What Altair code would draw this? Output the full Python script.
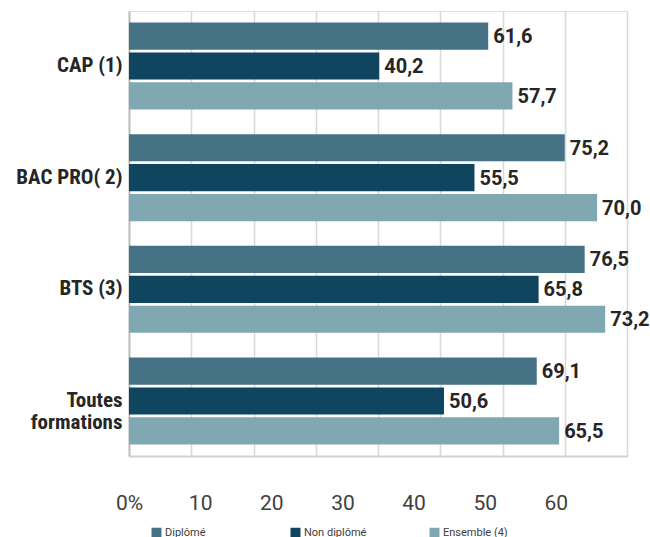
import altair as alt
import pandas as pd

categories = ["CAP (1)", "BAC PRO( 2)", "BTS (3)", "Toutes|formations"]
series = ["Diplômé", "Non diplômé", "Ensemble (4)"]
colors = ["#467286", "#0f455f", "#80a8b2"]

# bar lengths as drawn in the reference
bar_diplome = [57.7, 70.0, 73.2, 65.5]
bar_non_diplome = [40.2, 55.5, 65.8, 50.6]
bar_ensemble = [61.6, 75.2, 76.5, 69.1]

# value labels as printed in the reference
lab_diplome = ["61,6", "75,2", "76,5", "69,1"]
lab_non_diplome = ["40,2", "55,5", "65,8", "50,6"]
lab_ensemble = ["57,7", "70,0", "73,2", "65,5"]

x_tick_labels = [0, 10, 20, 30, 40, 50, 60]
grid_values = [0, 10, 20, 30, 40, 50, 60, 70, 80]

rows = []
for s, vals, labs in zip(series, [bar_diplome, bar_non_diplome, bar_ensemble],
                         [lab_diplome, lab_non_diplome, lab_ensemble]):
    for c, v, l in zip(categories, vals, labs):
        rows.append({"cat": c, "series": s, "value": v, "label": l})
df = pd.DataFrame(rows)

y_enc = alt.Y(
    "cat:N", sort=categories, title=None,
    scale=alt.Scale(paddingInner=0.221, paddingOuter=0.103),
    axis=alt.Axis(
        labelExpr="indexof(datum.label, '|') >= 0 ? split(datum.label, '|') : datum.label",
        labelFont="Roboto Condensed, Liberation Sans Narrow, Roboto",
        labelFontSize=21, labelFontWeight="bold", labelColor="#262626",
        labelLineHeight=22, labelPadding=7, ticks=False,
        domainColor="#bfbfbf", domainWidth=2, labelLimit=200,
    ),
)
yoff_enc = alt.YOffset("series:N", sort=series,
                       scale=alt.Scale(paddingInner=0.09, paddingOuter=0))

x_enc = alt.X(
    "value:Q", title=None, scale=alt.Scale(domain=[0, 80], nice=False),
    axis=alt.Axis(values=grid_values, grid=True, gridColor="#d9d9d9", gridWidth=1.6,
                  labels=False, ticks=False, domainColor="#d0d0d0", domainWidth=2),
)

base = alt.Chart(df)
bars = base.mark_bar().encode(
    x=x_enc, y=y_enc, yOffset=yoff_enc,
    color=alt.Color(
        "series:N", sort=series, scale=alt.Scale(domain=series, range=colors),
        legend=alt.Legend(
            title=None, orient="none", direction="horizontal", legendX=22, legendY=516,
            symbolType="square", symbolSize=100, symbolStrokeWidth=0, symbolOpacity=1,
            labelFont="Roboto", labelFontSize=11, labelColor="#404040", labelOffset=3,
            gridAlign="all", columnPadding=60,
        ),
    ),
)
texts = base.mark_text(align="left", baseline="middle", dx=5, dy=1, font="Roboto",
                       fontSize=20, fontWeight="bold", color="#262626").encode(
    x=alt.X("value:Q"), y=alt.Y("cat:N", sort=categories), yOffset=yoff_enc, text="label:N"
)

main = alt.layer(bars, texts)

tick_df = pd.DataFrame({"t": x_tick_labels})
axis_layer = alt.Chart(tick_df).mark_point(opacity=0).encode(
    x=alt.X("t:Q", title=None, scale=alt.Scale(domain=[0, 70], nice=False),
            axis=alt.Axis(orient="bottom", values=x_tick_labels,
                          labelExpr="datum.value == 0 ? '0%' : datum.label",
                          labelFlush=False, labelOverlap=False,
                          grid=False, ticks=False, domain=False, labelFont="Roboto",
                          labelFontSize=21, labelColor="#404040", labelPadding=36))
)

chart = alt.layer(main, axis_layer).resolve_scale(x="independent").properties(
    width=498, height=445,
    padding={"left": 129, "top": 11, "right": 23, "bottom": 81},
    autosize=alt.AutoSizeParams(type="none"),
).configure_view(stroke=None).configure(background="white")

chart.save("out.html", embed_options={"renderer": "svg", "actions": False})
